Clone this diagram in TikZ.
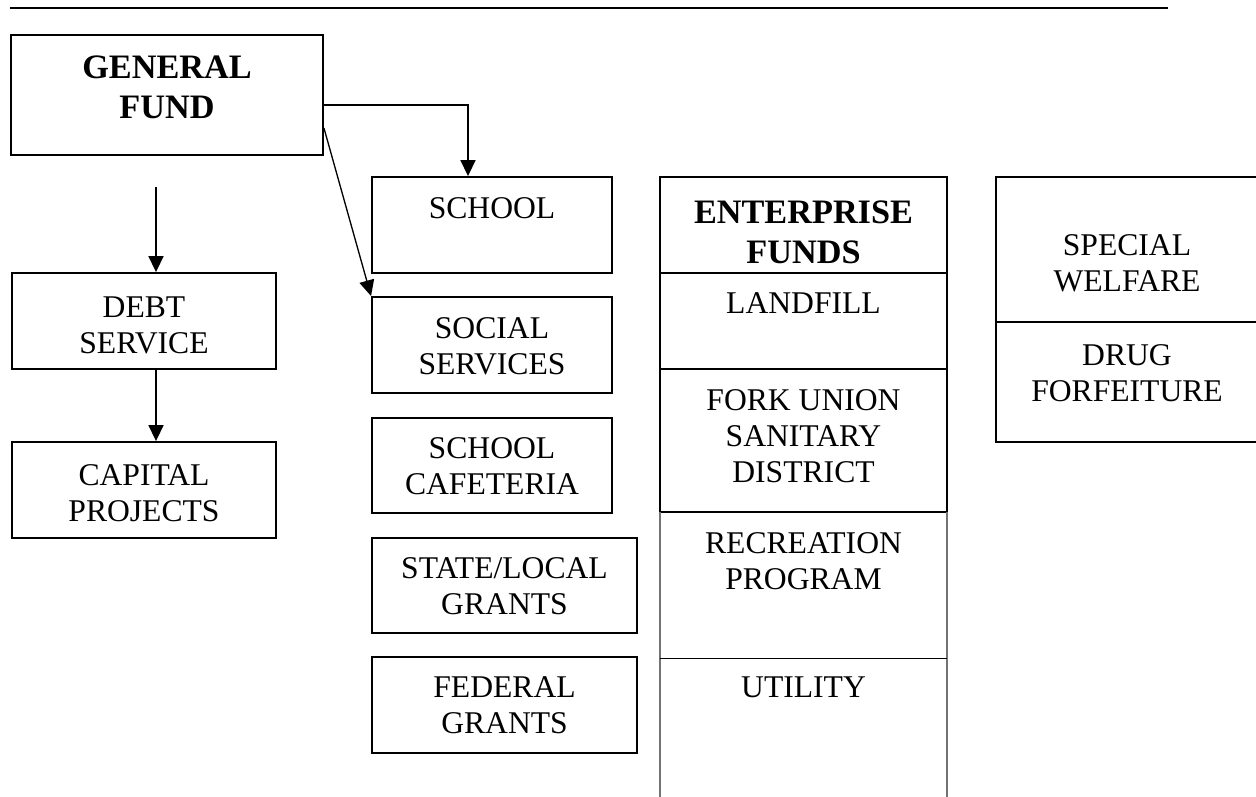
\documentclass[tikz,border=0pt]{standalone}
\usepackage{fontspec}
\setmainfont{Liberation Serif}
\usetikzlibrary{arrows.meta,calc}
\begin{document}
\begin{tikzpicture}[x=0.02cm,y=-0.02cm,
  fundbox/.style={draw,line width=1.1pt,inner sep=0pt},
  openbox/.style={inner sep=0pt},
  lbl/.style={anchor=north,inner sep=0pt,align=center,font=\fontsize{18}{20.5}\selectfont},
  blbl/.style={anchor=north,inner sep=0pt,align=center,font=\fontsize{19.5}{23}\selectfont\bfseries},
  arr/.style={line width=0.75pt,-{Triangle[length=9pt,width=8.5pt]}}]
\useasboundingbox (0,0) rectangle (1256,796);

% rule across the top
\coordinate (ruleL) at (10,8);
\coordinate (ruleR) at (1168,8);
\draw[line width=0.9pt] (ruleL) -- (ruleR);

% general fund
\node[fundbox,minimum width=6.24cm,minimum height=2.4cm] (gf) at (167,95) {};
\node[blbl] (tgf) at (167,55.5) {GENERAL\\FUND};

% left column
\node[fundbox,minimum width=5.28cm,minimum height=1.92cm] (debt) at (144,321) {};
\node[lbl] (tdebt) at (144,296) {DEBT\\SERVICE};
\node[fundbox,minimum width=5.28cm,minimum height=1.92cm] (cap) at (144,490) {};
\node[lbl] (tcap) at (144,464) {CAPITAL\\PROJECTS};

% special revenue column
\node[fundbox,minimum width=4.8cm,minimum height=1.92cm] (school) at (492,225) {};
\node[lbl] (tschool) at (492,197) {SCHOOL};
\node[fundbox,minimum width=4.8cm,minimum height=1.92cm] (social) at (492,345) {};
\node[lbl] (tsocial) at (492,317) {SOCIAL\\SERVICES};
\node[fundbox,minimum width=4.8cm,minimum height=1.9cm] (caf) at (492,465.5) {};
\node[lbl] (tcaf) at (492,437) {SCHOOL\\CAFETERIA};
\node[fundbox,minimum width=5.3cm,minimum height=1.9cm] (state) at (504.5,585.5) {};
\node[lbl] (tstate) at (504.5,557) {STATE/LOCAL\\GRANTS};
\node[fundbox,minimum width=5.3cm,minimum height=1.92cm] (fed) at (504.5,705) {};
\node[lbl] (tfed) at (504.5,676) {FEDERAL\\GRANTS};

% enterprise funds column
\node[fundbox,minimum width=5.74cm,minimum height=1.92cm] (ent) at (803.5,225) {};
\node[blbl] (tent) at (803.5,200) {ENTERPRISE\\FUNDS};
\node[fundbox,minimum width=5.74cm,minimum height=1.92cm] (land) at (803.5,321) {};
\node[lbl] (tland) at (803.5,292) {LANDFILL};
\node[fundbox,minimum width=5.74cm,minimum height=2.86cm] (fork) at (803.5,440.5) {};
\node[lbl] (tfork) at (803.5,389) {FORK UNION\\SANITARY\\DISTRICT};
\node[openbox,minimum width=5.74cm,minimum height=2.92cm] (rec) at (803.5,585) {};
\node[lbl] (trec) at (803.5,532) {RECREATION\\PROGRAM};
\node[openbox,minimum width=5.74cm,minimum height=2.84cm] (util) at (803.5,729) {};
\node[lbl] (tutil) at (803.5,676) {UTILITY};
\draw[black!55,line width=1pt] (rec.north west) -- (util.south west);
\draw[black!55,line width=1pt] (rec.north east) -- (util.south east);
\draw[line width=0.7pt] (rec.south west) -- (rec.south east);

% fiduciary funds
\node[fundbox,minimum width=5.28cm,minimum height=2.9cm] (sw) at (1128,249.5) {};
\node[lbl] (tsw) at (1127,234) {SPECIAL\\WELFARE};
\node[fundbox,minimum width=5.28cm,minimum height=2.4cm] (drug) at (1128,382) {};
\node[lbl] (tdrug) at (1127,344) {DRUG\\FORFEITURE};

% connectors
\draw[arr] ($(gf.east)+(0,10)$) -| ($(school.north)+(-24,0)$);
\draw[arr] ($(gf.east)+(0,33)$) -- (social.north west);
\coordinate (dtop) at (156,187);
\draw[arr] (dtop) -- (dtop |- debt.north);
\draw[arr] (dtop |- debt.south) -- (dtop |- cap.north);
\end{tikzpicture}
\end{document}
